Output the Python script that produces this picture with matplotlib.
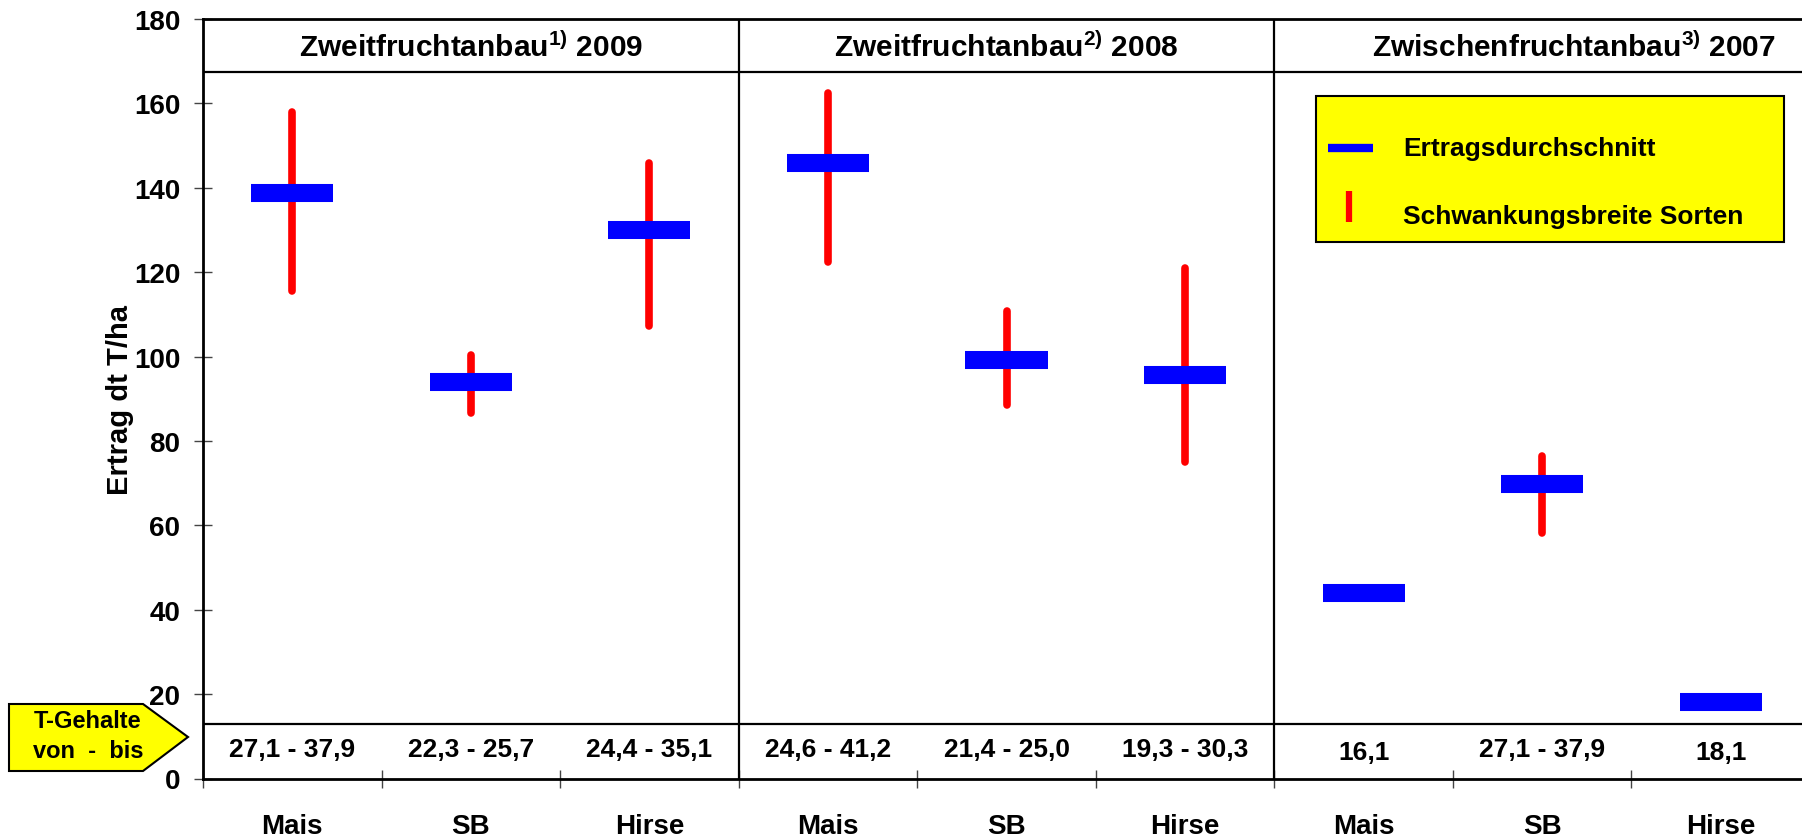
import numpy as np
import matplotlib
matplotlib.use("Agg")
import matplotlib.pyplot as plt
from matplotlib.patches import Rectangle, Polygon
from matplotlib.lines import Line2D

plt.rcParams['font.family'] = ['Liberation Sans', 'DejaVu Sans']
plt.rcParams['font.weight'] = 'bold'
plt.rcParams['mathtext.fontset'] = 'custom'
plt.rcParams['mathtext.rm'] = 'Liberation Sans'
plt.rcParams['mathtext.it'] = 'Liberation Sans'
plt.rcParams['mathtext.default'] = 'rm'

# data
GROUPS = ["Zweitfruchtanbau$^{1)}$ 2009",
          "Zweitfruchtanbau$^{2)}$ 2008",
          "Zwischenfruchtanbau$^{3)}$ 2007"]
CROPS = ["Mais", "SB", "Hirse", "Mais", "SB", "Hirse", "Mais", "SB", "Hirse"]
MEAN = [138.8, 93.9, 130.0, 145.8, 99.3, 95.6, 43.9, 69.8, 18.1]
LOW = [115.5, 86.7, 107.3, 122.3, 88.6, 75.1, np.nan, 58.3, np.nan]
HIGH = [158.0, 100.3, 145.8, 162.5, 110.7, 121.1, np.nan, 76.4, np.nan]
T_GEHALT = ["27,1 - 37,9", "22,3 - 25,7", "24,4 - 35,1",
            "24,6 - 41,2", "21,4 - 25,0", "19,3 - 30,3",
            "16,1", "27,1 - 37,9", "18,1"]

W, H = 1802, 837
fig = plt.figure(figsize=(W / 100, H / 100), dpi=100)
ax = fig.add_axes([203 / W, 57.5 / H, 1607 / W, 759.5 / H])

x = np.arange(len(CROPS))
low = np.array(LOW)
high = np.array(HIGH)
ok = ~np.isnan(low)

ax.vlines(x[ok], low[ok], high[ok], color='#ff0000', lw=5.5, capstyle='round', zorder=3)
ax.hlines(MEAN, x - 0.23, x + 0.23, color='#0000ff', lw=13, capstyle='butt', zorder=4)

ax.set_xlim(-0.5, 8.5)
ax.set_ylim(0, 180)

# frame / table lines
for s in ['left', 'bottom', 'top']:
    ax.spines[s].set_linewidth(2)
ax.spines['right'].set_visible(False)
ax.axhline(167.5, color='black', lw=1.6)
ax.axhline(13, color='black', lw=1.6)
for d in [2.5, 5.5]:
    ax.axvline(d, color='black', lw=1.6)

# headers
hdr_x = [1.0, 4.0, 7.18]
for gx, g in zip(hdr_x, GROUPS):
    ax.text(gx, 173.4, g, ha='center', va='center', fontsize=21.5, fontweight='bold')

# T-Gehalte row
for i, t in enumerate(T_GEHALT):
    yy = 6.3 if '-' not in t else 7.0
    ax.text(i, yy, t, ha='center', va='center', fontsize=19, fontweight='bold')

# ticks
ax.set_yticks(np.arange(0, 181, 20))
ax.tick_params(axis='y', direction='inout', length=13.5, width=1, color='#444444',
               labelsize=20, pad=9.5)
ax.set_xticks(x)
ax.set_xticklabels(CROPS)
ax.set_xticks(np.arange(-0.5, 9, 1), minor=True)
ax.tick_params(axis='x', which='major', length=0, labelsize=20, pad=24.5)
ax.tick_params(axis='x', which='minor', direction='inout', length=13.5, width=1, color='#444444')
for lab in ax.get_xticklabels() + ax.get_yticklabels():
    lab.set_fontweight('bold')

ax.set_ylabel("Ertrag dt T/ha", fontsize=21, fontweight='bold')
ax.yaxis.set_label_coords(-0.043, 0.5)

# legend box (yellow)
def fx(px):
    return px / W


def fy(py):
    return 1 - py / H


fig.add_artist(Rectangle((fx(1316), fy(243)), fx(1784) - fx(1316), fy(97) - fy(243),
                         facecolor='#ffff00', edgecolor='black', lw=1.5,
                         transform=fig.transFigure, zorder=5))
fig.add_artist(Line2D([fx(1328), fx(1373)], [fy(149), fy(149)], color='#0000ff', lw=6,
                      solid_capstyle='butt', transform=fig.transFigure, zorder=6))
fig.add_artist(Line2D([fx(1349), fx(1349)], [fy(192), fy(223)], color='#ff0000', lw=4.5,
                      solid_capstyle='butt', transform=fig.transFigure, zorder=6))
fig.text(fx(1403), fy(149), "Ertragsdurchschnitt", ha='left', va='center',
         fontsize=19, fontweight='bold', zorder=7)
fig.text(fx(1403), fy(217), "Schwankungsbreite Sorten", ha='left', va='center',
         fontsize=19, fontweight='bold', zorder=7)

# yellow arrow label
pts = [(9, 705), (143, 705), (188, 738), (143, 772), (9, 772)]
fig.add_artist(Polygon([(fx(a), fy(b)) for a, b in pts], closed=True,
                       facecolor='#ffff00', edgecolor='black', lw=1.5,
                       transform=fig.transFigure, zorder=5))
fig.text(fx(88), fy(722), "T-Gehalte", ha='center', va='center', fontsize=17,
         fontweight='bold', zorder=7)
fig.text(fx(88), fy(752), "von  -  bis", ha='center', va='center', fontsize=17,
         fontweight='bold', zorder=7)

fig.savefig("out.png", dpi=100)
